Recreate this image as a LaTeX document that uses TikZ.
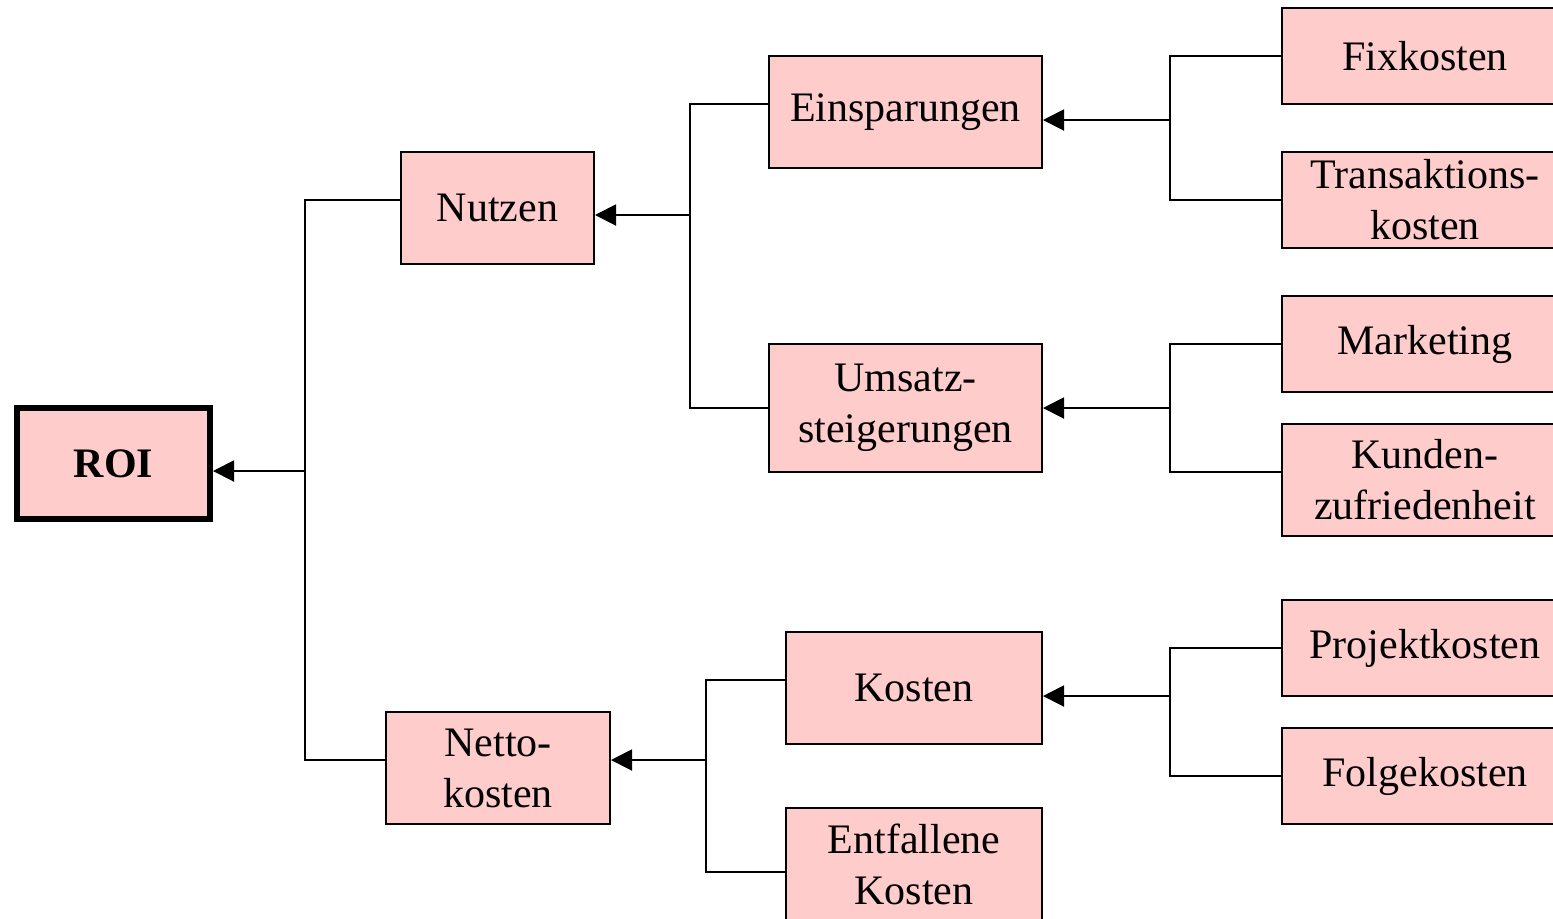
\documentclass[tikz,border=0pt]{standalone}
\usepackage{fontspec}
\setmainfont{Liberation Serif}
\usepackage{tikz}
\usepackage{xcolor}
\usetikzlibrary{arrows.meta,calc,positioning}
\definecolor{ROI_Pink}{HTML}{FFCCCC}

\begin{document}
\begin{tikzpicture}[x=0.5pt, y=-0.5pt, >={Triangle[length=10.5pt,width=10.5pt]},
    line width=1pt,
    box/.style={draw, fill=ROI_Pink, inner sep=0pt, align=center,
        font=\fontsize{21}{25.5}\selectfont},
    wide/.style={minimum width=136.5pt},
    leaf/.style={minimum width=143pt, minimum height=48pt}]
    \useasboundingbox (0,0) rectangle (1553,918);

    % Root
    \node[box, line width=3pt, minimum width=96.5pt, minimum height=55.5pt,
        font=\fontsize{21}{25.5}\selectfont\bfseries] (roi) at (113.5,463.5) {ROI};

    % Level 1
    \node[box, minimum width=96.5pt, minimum height=56pt] (nutzen) at (497.5,208) {Nutzen};
    \node[box, minimum width=112pt, minimum height=56pt] (netto) at (498,768) {Netto-\\kosten};

    % Level 2
    \node[box, wide, minimum height=56pt] (einsp) at (905.5,112) {Einsparungen};
    \node[box, wide, minimum height=64pt] (umsatz) at (905.5,408) {Umsatz-\\steigerungen};
    \node[box, minimum width=128pt, minimum height=56pt] (kosten) at (914,688) {Kosten};
    \node[box, minimum width=128pt, minimum height=56pt] (entf) at (914,864) {Entfallene\\Kosten};

    % Level 3
    \node[box, leaf] (fix) at (1425,56) {Fixkosten};
    \node[box, leaf] (trans) at (1425,200) {Transaktions-\\kosten};
    \node[box, leaf] (marketing) at (1425,344) {Marketing};
    \node[box, leaf, minimum height=56pt] (kunden) at (1425,480) {Kunden-\\zufriedenheit};
    \node[box, leaf] (projekt) at (1425,648) {Projektkosten};
    \node[box, leaf] (folge) at (1425,776) {Folgekosten};

    % Junctions
    \coordinate (j_roi) at (305,471);
    \coordinate (j_nutzen) at (690,215);
    \coordinate (j_netto) at (706,760);
    \coordinate (j_einsp) at (1170,120);
    \coordinate (j_umsatz) at (1170,408);
    \coordinate (j_kosten) at (1170,696);

    % Connectors to ROI
    \draw (nutzen.west |- 0,200) -| (j_roi) |- (netto.west |- 0,760);
    \draw[->] (j_roi) -- (roi.east |- j_roi);

    % Connectors to Nutzen and Nettokosten
    \draw (einsp.west |- 0,104) -| (j_nutzen) |- (umsatz.west |- 0,408);
    \draw[->] (j_nutzen) -- (nutzen.east |- j_nutzen);
    \draw (kosten.west |- 0,680) -| (j_netto) |- (entf.west |- 0,872);
    \draw[->] (j_netto) -- (netto.east |- j_netto);

    % Connectors to level 2
    \draw (fix.west) -| (j_einsp) |- (trans.west);
    \draw[->] (j_einsp) -- (einsp.east |- j_einsp);
    \draw (marketing.west) -| (j_umsatz) |- (kunden.west |- 0,472);
    \draw[->] (j_umsatz) -- (umsatz.east |- j_umsatz);
    \draw (projekt.west) -| (j_kosten) |- (folge.west);
    \draw[->] (j_kosten) -- (kosten.east |- j_kosten);
\end{tikzpicture}
\end{document}
